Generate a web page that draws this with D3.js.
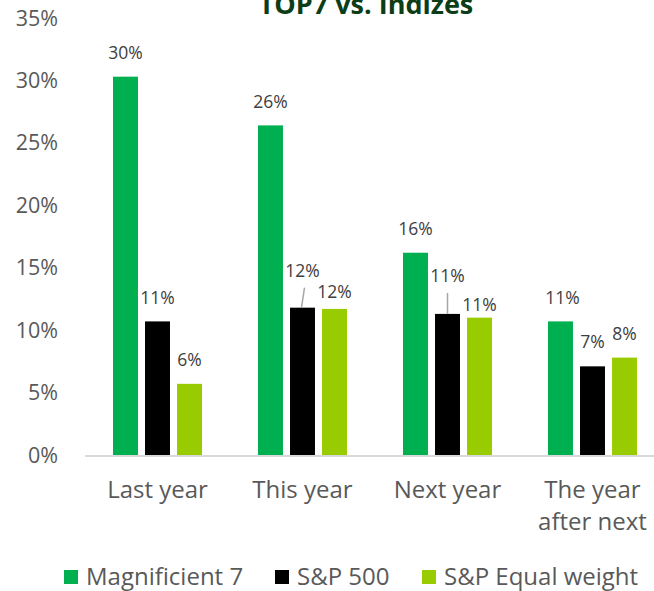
<!DOCTYPE html>
<html>
<head>
<meta charset="utf-8">
<style>
  body { margin: 0; background: #fff; }
  svg { display: block; font-family: 'Open Sans', sans-serif; }
</style>
</head>
<body>
<svg width="654" height="591"></svg>
<script src="https://d3js.org/d3.v7.min.js"></script>
<script>
// data
let periods = ["Last year", "This year", "Next year", "The year after next"]
let seriesNames = ["Magnificient 7", "S&P 500", "S&P Equal weight"]
let magnificent7 = [30.3, 26.4, 16.2, 10.7]
let sp500 = [10.7, 11.8, 11.3, 7.1]
let spEqual = [5.7, 11.7, 11.0, 7.8]
let labelText = [["30%", "26%", "16%", "11%"], ["11%", "12%", "11%", "7%"], ["6%", "12%", "11%", "8%"]]
let yTicks = [0, 5, 10, 15, 20, 25, 30, 35]

// label nudges (px) where excel moved labels around
let labelLift = [[24, 24, 24, 24], [24, 37, 38, 24], [24, 17, 13, 24]]
let labelShift = [[0, 0, 0, 2], [0, 0, 0, 0], [0, 0, 0, 0]]
let leader = [[false, false, false, false], [false, true, true, false], [false, false, false, false]]

let colors = ["#00b050", "#000000", "#99cc00"]
let series = [magnificent7, sp500, spEqual]

let svg = d3.select("svg")
let margin = { top: 18, left: 85, bottom: 136 }
let plotRight = 665
let height = 591

let x = d3.scaleBand()
    .domain(periods)
    .range([margin.left, plotRight])

let x1 = d3.scaleBand()
    .domain(d3.range(3))
    .range([28, x.bandwidth() - 28])
    .paddingInner(0.22)

let y = d3.scaleLinear()
    .domain([0, 35])
    .range([height - margin.bottom, margin.top])

// y axis labels
svg.append("g")
    .selectAll("text")
    .data(yTicks)
    .join("text")
    .attr("x", 58)
    .attr("y", d => y(d))
    .attr("dy", "0.35em")
    .attr("text-anchor", "end")
    .style("font-size", "21.5px")
    .style("fill", "#595959")
    .text(d => d + "%")

// bars
let groups = svg.append("g")
    .selectAll("g")
    .data(series)
    .join("g")
    .attr("fill", (d, i) => colors[i])

groups.selectAll("rect")
    .data((d, si) => d.map((v, pi) => ({ v, pi, si })))
    .join("rect")
    .attr("x", d => x(periods[d.pi]) + x1(d.si))
    .attr("y", d => y(d.v))
    .attr("width", x1.bandwidth())
    .attr("height", d => y(0) - y(d.v))

// x axis line
svg.append("line")
    .attr("x1", margin.left)
    .attr("x2", plotRight)
    .attr("y1", y(0) + 1)
    .attr("y2", y(0) + 1)
    .style("stroke", "#d9d9d9")
    .style("stroke-width", 2)

// data labels
let labels = []
series.forEach((s, si) => s.forEach((v, pi) => labels.push({ v, si, pi })))

let lbl = svg.append("g")
labels.forEach(d => {
    let cx = x(periods[d.pi]) + x1(d.si) + x1.bandwidth() / 2 + labelShift[d.si][d.pi]
    let ty = y(d.v) - labelLift[d.si][d.pi]
    if (leader[d.si][d.pi]) {
        lbl.append("line")
            .attr("x1", cx - (d.pi == 1 ? 1 : 0))
            .attr("y1", y(d.v))
            .attr("x2", cx + (d.pi == 1 ? 2 : 0))
            .attr("y2", ty + 17)
            .style("stroke", "#a6a6a6")
            .style("stroke-width", 1.5)
    }
    lbl.append("text")
        .attr("x", cx)
        .attr("y", ty)
        .attr("dy", "0.35em")
        .attr("text-anchor", "middle")
        .style("font-size", "17.5px")
        .style("fill", "#404040")
        .text(labelText[d.si][d.pi])
})

// category labels
svg.append("g")
    .selectAll("text")
    .data(periods)
    .join("text")
    .attr("x", d => x(d) + x.bandwidth() / 2)
    .attr("y", 498)
    .attr("text-anchor", "middle")
    .style("font-size", "24px")
    .style("fill", "#595959")
    .each(function (d) {
        let lines = d == "The year after next" ? ["The year", "after next"] : [d]
        d3.select(this).selectAll("tspan")
            .data(lines)
            .join("tspan")
            .attr("x", x(d) + x.bandwidth() / 2)
            .attr("dy", (l, i) => i == 0 ? 0 : 32)
            .text(l => l)
    })

// legend
let legendX = [64, 275, 422]
let leg = svg.append("g")
    .selectAll("g")
    .data(seriesNames)
    .join("g")
    .attr("transform", (d, i) => `translate(${legendX[i]},570)`)
leg.append("rect")
    .attr("width", 14)
    .attr("height", 14)
    .attr("fill", (d, i) => colors[i])
leg.append("text")
    .attr("x", 22)
    .attr("y", 7)
    .attr("dy", "0.35em")
    .style("font-size", "24px")
    .style("fill", "#595959")
    .text(d => d)

// title (cut off at top in the original)
svg.append("text")
    .attr("x", 366)
    .attr("y", 14)
    .attr("text-anchor", "middle")
    .style("font-size", "27px")
    .style("font-weight", "bold")
    .style("fill", "#0b3d17")
    .text("TOP7 vs. Indizes")
</script>
</body>
</html>
